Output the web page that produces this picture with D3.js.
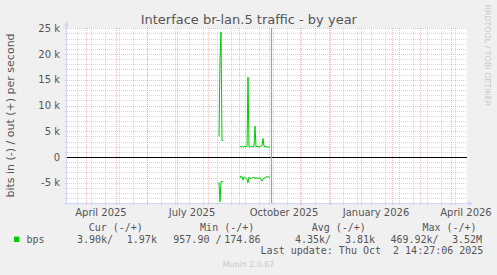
<!DOCTYPE html>
<html><head><meta charset="utf-8">
<script src="https://cdn.jsdelivr.net/npm/d3@7"></script>
<style>body{margin:0;background:#f0f0f0}svg{display:block}text{white-space:pre}</style>
</head><body><svg id="c" width="497" height="275"></svg>
<script>
// ---------- data ----------
const seg1Dates = ["2025-08-12","2025-08-13","2025-08-14","2025-08-15","2025-08-16"];
const seg1Out   = [4000, 19000, 24300, 3200, 3200];
const seg1In    = [4900, 8700, 4800, 4800, 4800];
const seg2Dates = ["2025-09-02","2025-09-03","2025-09-04","2025-09-05","2025-09-06","2025-09-07","2025-09-08","2025-09-09",
  "2025-09-10","2025-09-11","2025-09-12","2025-09-13","2025-09-14","2025-09-15","2025-09-16","2025-09-17","2025-09-18",
  "2025-09-19","2025-09-20","2025-09-21","2025-09-22","2025-09-23","2025-09-24","2025-09-25","2025-09-26","2025-09-27",
  "2025-09-28","2025-09-29","2025-09-30","2025-10-01","2025-10-02"];
const seg2Out = [2000,2000,2100,1900,2000,2100,2000,2100,15500,2000,1900,2100,2000,2000,2000,6000,2000,2100,2000,2000,
  2000,2100,2200,3600,2100,2000,2000,2000,1900,1950,1970];
const seg2In  = [4100,3700,3800,4500,3900,4000,4200,4300,5000,3900,4100,4200,4000,4100,3900,4200,4100,4000,4100,4200,
  4000,4300,4700,4300,4000,4100,3900,3800,3900,3900,3900];
const yMajorTicks = [-5000, 0, 5000, 10000, 15000, 20000, 25000];
const yTickLabels = ["-5 k", "0", "5 k", "10 k", "15 k", "20 k", "25 k"];
const xLabelDates = ["2025-04-16","2025-07-16","2025-10-16","2026-01-16","2026-04-16"];
const xLabels = ["April 2025","July 2025","October 2025","January 2026","April 2026"];
const domainStart = "2025-03-13", domainEnd = "2026-04-17";
const nowTime = "2025-10-02 14:27:06";
const yMin = -8877, yMax = 25000;
const title = "Interface br-lan.5 traffic - by year";
const yTitle = "bits in (-) / out (+) per second";
const legendHeaders = ["Cur (-/+)", "Min (-/+)", "Avg (-/+)", "Max (-/+)"];
const legendName = "bps";
const legendValues = [["3.90k/", "1.97k"], ["957.90", "/", "174.86"], ["4.35k/", "3.81k"], ["469.92k/", "3.52M"]];
const lastUpdate = "Last update: Thu Oct  2 14:27:06 2025";
const watermark = "Munin 2.0.67";
const sideText = "RRDTOOL / TOBI OETIKER";

// ---------- layout ----------
const P = {l: 67, r: 467, t: 28.3, b: 202.7};
const svg = d3.select("#c");
const parse = d3.timeParse("%Y-%m-%d");
const parseT = d3.timeParse("%Y-%m-%d %H:%M:%S");
const x = d3.scaleTime().domain([parse(domainStart), parse(domainEnd)]).range([P.l, P.r]);
const y = d3.scaleLinear().domain([yMin, yMax]).range([P.b, P.t]);
const px = v => Math.round(v) + 0.5;
const FONT = "DejaVu Sans";
const MONO = "DejaVu Sans Mono";
const FC = "#555";
const MINOR = "rgba(160,160,160,0.42)";
const MAJOR = "rgba(230,100,100,0.42)";

svg.append("rect").attr("width", 497).attr("height", 275).attr("fill", "#f0f0f0");
svg.append("rect").attr("x", P.l).attr("y", Math.round(P.t)).attr("width", P.r - P.l).attr("height", Math.round(P.b) - Math.round(P.t)).attr("fill", "#ffffff");

const g = svg.append("g");
// minor horizontal grid
const yMinor = d3.range(-8000, 25001, 1000).filter(v => v % 5000 !== 0);
g.selectAll(".hm").data(yMinor).join("line")
  .attr("x1", P.l - 2).attr("x2", P.r).attr("y1", d => px(y(d))).attr("y2", d => px(y(d)))
  .attr("stroke", MINOR).attr("stroke-dasharray", "1,1");
// minor vertical grid (every 2 weeks)
const xMinor = d3.timeWeek.every(2).range(parse("2025-03-20"), parse(domainEnd)).filter(d => d >= parse("2025-03-23"));
g.selectAll(".vm").data(xMinor).join("line")
  .attr("x1", d => px(x(d))).attr("x2", d => px(x(d))).attr("y1", Math.round(P.t)).attr("y2", Math.round(P.b) + 2)
  .attr("stroke", MINOR).attr("stroke-dasharray", "1,1");
// major horizontal grid
g.selectAll(".hM").data(yMajorTicks).join("line")
  .attr("x1", P.l - 2).attr("x2", P.r).attr("y1", d => px(y(d))).attr("y2", d => px(y(d)))
  .attr("stroke", MAJOR).attr("stroke-dasharray", "1,1");
// major vertical grid (months)
const xMajor = d3.timeMonth.range(parse(domainStart), parse(domainEnd));
g.selectAll(".vM").data(xMajor).join("line")
  .attr("x1", d => px(x(d))).attr("x2", d => px(x(d))).attr("y1", Math.round(P.t)).attr("y2", Math.round(P.b) + 2)
  .attr("stroke", MAJOR).attr("stroke-dasharray", "1,1");

// axes
const AX = "#CFD6F8";
svg.append("line").attr("x1", P.l - 0.5).attr("x2", P.l - 0.5).attr("y1", Math.round(P.b) + 2).attr("y2", 24).attr("stroke", AX);
svg.append("line").attr("x1", P.l - 3).attr("x2", P.r + 2).attr("y1", px(y(yMin))).attr("y2", px(y(yMin))).attr("stroke", AX);
svg.append("path").attr("d", `M${P.l - 3.2},26.5 L${P.l - 0.5},21.3 L${P.l + 2.2},26.5 Z`).attr("fill", AX);
const by = px(y(yMin));
svg.append("path").attr("d", `M${P.r + 1},${by - 2.7} L${P.r + 6.3},${by} L${P.r + 1},${by + 2.7} Z`).attr("fill", AX);

// zero line
svg.append("line").attr("x1", P.l).attr("x2", P.r).attr("y1", px(y(0))).attr("y2", px(y(0))).attr("stroke", "#000");

// now line
const nx = px(x(parseT(nowTime)));
svg.append("line").attr("x1", nx).attr("x2", nx).attr("y1", Math.round(P.t)).attr("y2", Math.round(P.b)).attr("stroke", "#a0a0a0").attr("stroke-width", 1.2);

// data lines
const line = d3.line().x(d => x(d[0])).y(d => y(d[1]));
const segs = [
  seg1Dates.map((d, i) => [parse(d), seg1Out[i]]),
  seg1Dates.map((d, i) => [parse(d), -seg1In[i]]),
  seg2Dates.map((d, i) => [parse(d), seg2Out[i]]),
  seg2Dates.map((d, i) => [parse(d), -seg2In[i]])
];
svg.selectAll(".s").data(segs).join("path")
  .attr("d", line).attr("fill", "none").attr("stroke", "#00CC00").attr("stroke-width", 1);

// y tick labels
svg.selectAll(".yt").data(yMajorTicks).join("text")
  .attr("x", 60).attr("y", d => y(d) + 3.7).attr("text-anchor", "end")
  .attr("font-family", FONT).attr("font-size", 10).attr("fill", FC)
  .text((d, i) => yTickLabels[i]);
// x labels
svg.selectAll(".xt").data(xLabelDates).join("text")
  .attr("x", d => x(parse(d))).attr("y", 215.5).attr("text-anchor", "middle")
  .attr("font-family", FONT).attr("font-size", 10).attr("fill", FC)
  .text((d, i) => xLabels[i]);

// title
svg.append("text").attr("x", 248.8).attr("y", 24).attr("text-anchor", "middle")
  .attr("font-family", FONT).attr("font-size", 13).attr("fill", FC).text(title);
// y title
svg.append("text").attr("transform", `translate(13.8,${(P.t + P.b) / 2}) rotate(-90)`).attr("text-anchor", "middle")
  .attr("font-family", FONT).attr("font-size", 11).attr("fill", FC).text(yTitle);
// side text
svg.append("text").attr("transform", "translate(485.3,4.5) rotate(90)")
  .attr("font-family", FONT).attr("font-size", 7.9).attr("fill", "#c8c8c8").text(sideText);

// legend
const hx = [88.7, 200.1, 311.7, 422.4];
svg.selectAll(".lh").data(legendHeaders).join("text")
  .attr("x", (d, i) => hx[i]).attr("y", 231.3)
  .attr("font-family", MONO).attr("font-size", 10).attr("fill", FC).text(d => d);
svg.append("rect").attr("x", 14).attr("y", 236.6).attr("width", 5.4).attr("height", 5.4).attr("fill", "#00CC00");
svg.append("text").attr("x", 26.4).attr("y", 242.8).attr("font-family", MONO).attr("font-size", 10).attr("fill", FC).text(legendName);
const vx = [[77.0, 126.8], [173.3, 215.6, 224.3], [295.0, 345.0], [390.4, 452.0]];
legendValues.forEach((arr, i) => arr.forEach((s, j) => {
  svg.append("text").attr("x", vx[i][j]).attr("y", 242.8)
    .attr("font-family", MONO).attr("font-size", 10).attr("fill", FC).text(s);
}));
svg.append("text").attr("x", 260.6).attr("y", 254.4).attr("font-family", MONO).attr("font-size", 10).attr("fill", FC).text(lastUpdate);
svg.append("text").attr("x", 248.5).attr("y", 267.2).attr("text-anchor", "middle")
  .attr("font-family", FONT).attr("font-size", 7.9).attr("fill", "#c8c8c8").text(watermark);
</script></body></html>
